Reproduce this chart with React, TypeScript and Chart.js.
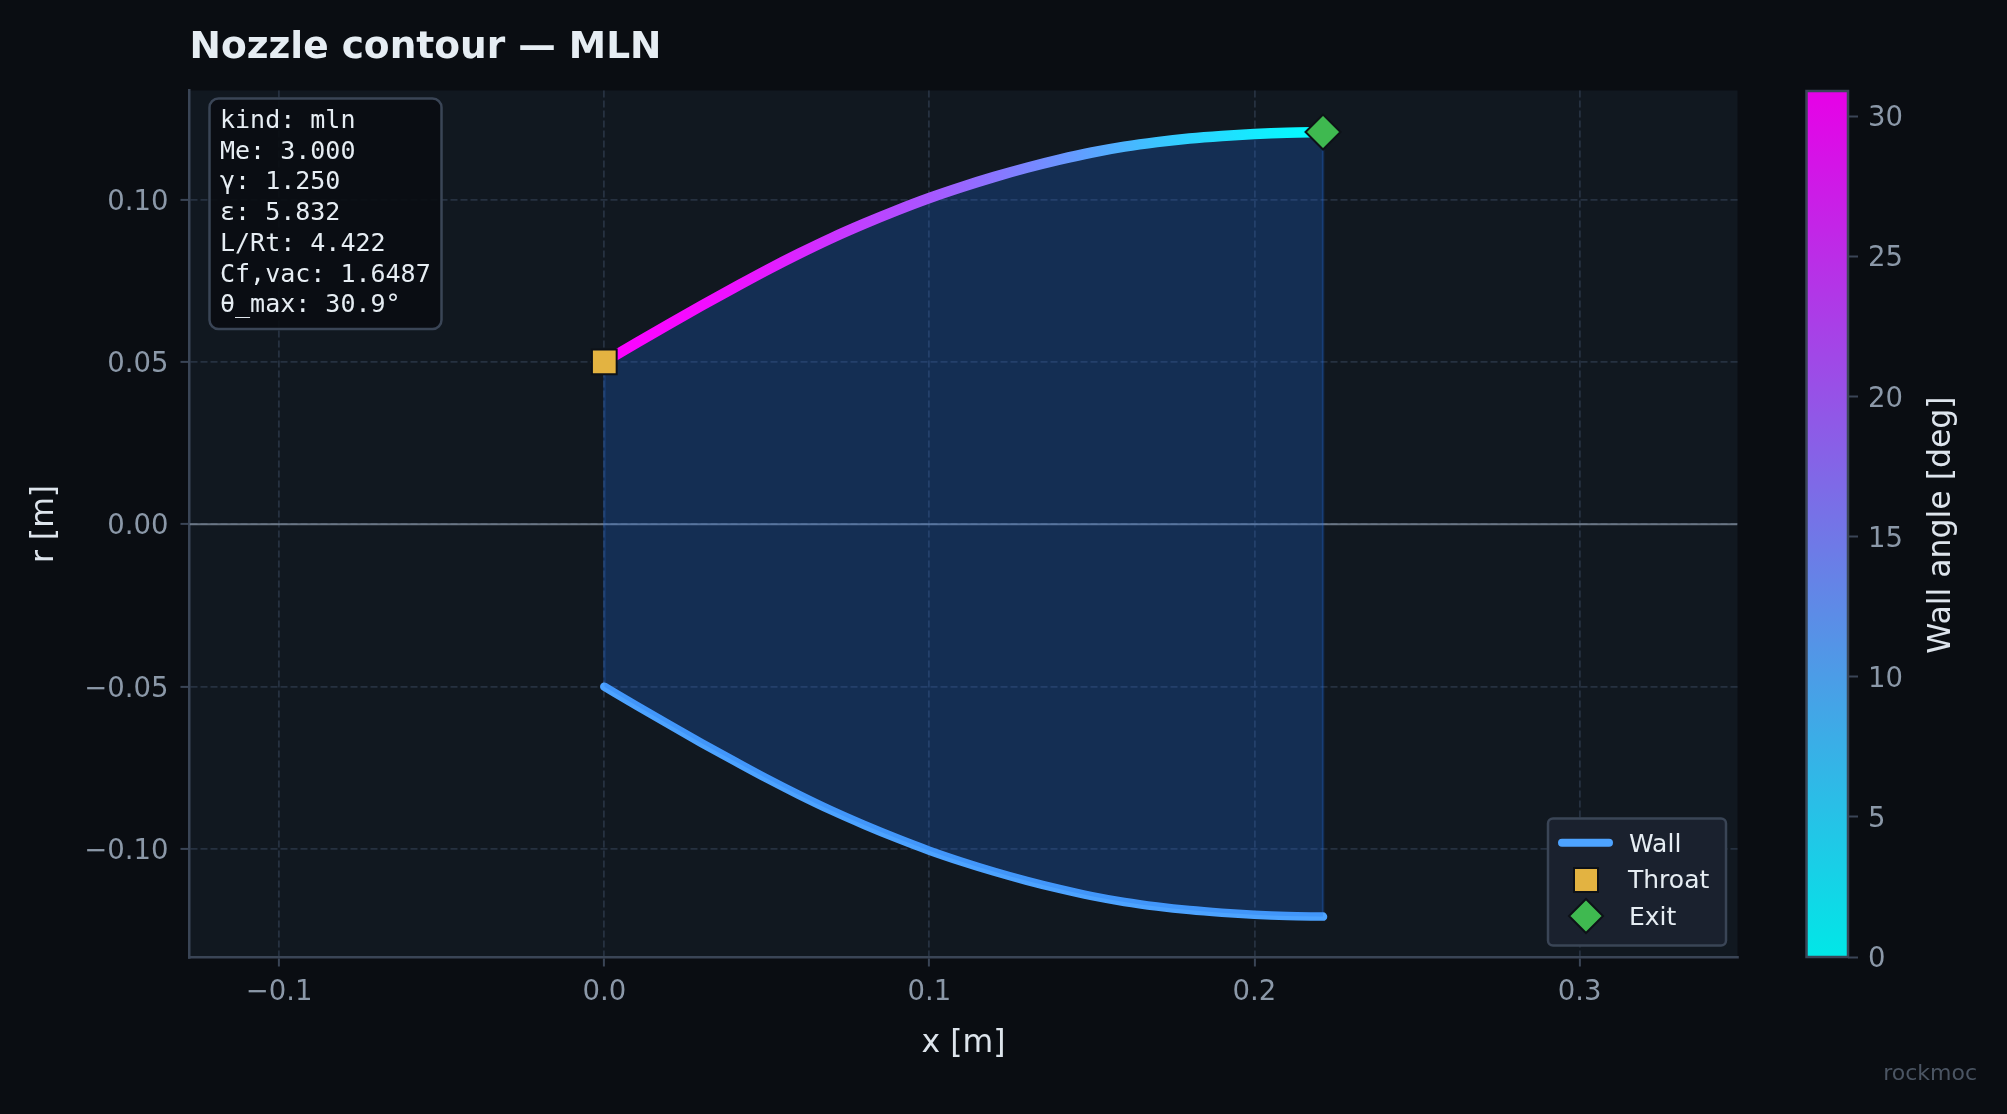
import React, { useEffect, useRef } from "react";
import { Chart, registerables } from "chart.js";

Chart.register(...registerables);

const wallX = [0, 0.01, 0.02, 0.03, 0.04, 0.05, 0.06, 0.07, 0.08, 0.09, 0.1, 0.11, 0.12, 0.13, 0.14, 0.15, 0.16, 0.17, 0.18, 0.19, 0.2, 0.21, 0.2211];
const wallR = [0.05, 0.0559, 0.0617, 0.0674, 0.0729, 0.0783, 0.0834, 0.0882, 0.0926, 0.0967, 0.1005, 0.1039, 0.107, 0.1098, 0.1123, 0.1145, 0.1163, 0.1177, 0.1188, 0.1196, 0.1202, 0.1206, 0.1208];
const wallAngle = [30.9, 30.3, 29.9, 29.4, 28.7, 27.7, 26.3, 24.7, 23, 21.8, 20.3, 18.5, 16.7, 14.8, 13, 11, 9.1, 7.1, 5.4, 4, 2.6, 1.2, 0.3];
const xTicks = [-0.1, 0, 0.1, 0.2, 0.3];
const yTicks = [-0.1, -0.05, 0, 0.05, 0.1];
const barTicks = [0, 5, 10, 15, 20, 25, 30];
const xRange = [-0.1276, 0.3486];
const yRange = [-0.1334, 0.1336];
const angleRange = [0, 30.9];
const infoLines = ["kind: mln", "Me: 3.000", "γ: 1.250", "ε: 5.832", "L/Rt: 4.422", "Cf,vac: 1.6487", "θ_max: 30.9°"];
const legendNames = ["Wall", "Throat", "Exit"];
const titleText = "Nozzle contour — MLN";
const xTitle = "x [m]";
const yTitle = "r [m]";
const barTitle = "Wall angle [deg]";
const watermark = "rockmoc";

const W = 2007;
const H = 1114;
const SANS = '"DejaVu Sans"';
const MONO = '"DejaVu Sans Mono"';
const BG = "#0a0d12";
const PANEL = "#111820";
const TEXT = "#e6edf3";
const LABEL = "#dde4ec";
const TICK = "#8b98a8";
const SPINE = "#3a4556";
const GRID = "#263140";
const WALL = "#4da3ff";
const GOLD = "#e3b341";
const GREEN = "#3fb950";
const FILL = "rgba(31,111,235,0.25)";
const TICK_SIZE = 27.5;
const LABEL_SIZE = 31.5;

const cool = (a: number, alpha = 1) => {
  const t = Math.max(0, Math.min(1, a / angleRange[1]));
  return `rgba(${Math.round(255 * t)},${Math.round(255 * (1 - t))},255,${alpha})`;
};

const roundBox = (ctx: any, x: number, y: number, w: number, h: number, r: number, fill: string, stroke: string, lw: number) => {
  ctx.beginPath();
  ctx.roundRect(x, y, w, h, r);
  ctx.fillStyle = fill;
  ctx.fill();
  ctx.lineWidth = lw;
  ctx.strokeStyle = stroke;
  ctx.stroke();
};

const backgroundPlugin = {
  id: "panelBackground",
  beforeDraw(chart: any) {
    const { ctx, chartArea: a } = chart;
    ctx.save();
    ctx.fillStyle = BG;
    ctx.fillRect(0, 0, W, H);
    ctx.fillStyle = PANEL;
    ctx.fillRect(a.left, a.top, a.right - a.left, a.bottom - a.top);
    ctx.restore();
  },
};

const overlayPlugin = {
  id: "overlay",
  afterDraw(chart: any) {
    const { ctx } = chart;
    ctx.save();
    ctx.textBaseline = "middle";
    ctx.textAlign = "left";
    ctx.fillStyle = TEXT;
    ctx.font = `bold 37.5px ${SANS}`;
    ctx.fillText(titleText, 189.5, 48.5);

    roundBox(ctx, 209.5, 98.5, 232, 230.5, 9, "rgba(10,13,18,0.92)", SPINE, 2.5);
    ctx.fillStyle = TEXT;
    ctx.font = `25px ${MONO}`;
    infoLines.forEach((line, i) => ctx.fillText(line, 220, 121.5 + i * 30.7));

    roundBox(ctx, 1548, 818.5, 178, 127, 5, "#1a212e", SPINE, 2.5);
    ctx.strokeStyle = WALL;
    ctx.lineWidth = 8;
    ctx.lineCap = "round";
    ctx.beginPath();
    ctx.moveTo(1562, 842.7);
    ctx.lineTo(1609, 842.7);
    ctx.stroke();
    ctx.lineCap = "butt";
    ctx.fillStyle = GOLD;
    ctx.strokeStyle = "#0d1117";
    ctx.lineWidth = 2;
    ctx.fillRect(1574, 868, 24, 24);
    ctx.strokeRect(1574, 868, 24, 24);
    ctx.fillStyle = GREEN;
    ctx.beginPath();
    ctx.moveTo(1586, 899);
    ctx.lineTo(1603, 916);
    ctx.lineTo(1586, 933);
    ctx.lineTo(1569, 916);
    ctx.closePath();
    ctx.fill();
    ctx.stroke();
    ctx.fillStyle = TEXT;
    ctx.font = `25px ${SANS}`;
    ctx.fillText(legendNames[0], 1629, 845);
    ctx.fillText(legendNames[1], 1628, 881.5);
    ctx.fillText(legendNames[2], 1629, 918);

    ctx.fillStyle = "#4b5563";
    ctx.font = `22px ${SANS}`;
    ctx.textAlign = "right";
    ctx.fillText(watermark, 1977, 1074);
    ctx.restore();
  },
};

const barOutlinePlugin = {
  id: "barOutline",
  afterDraw(chart: any) {
    const { ctx, chartArea: a } = chart;
    ctx.save();
    ctx.strokeStyle = SPINE;
    ctx.lineWidth = 2.5;
    ctx.strokeRect(a.left, a.top, a.right - a.left, a.bottom - a.top);
    ctx.translate(1942, (a.top + a.bottom) / 2 + 1);
    ctx.rotate(-Math.PI / 2);
    ctx.fillStyle = LABEL;
    ctx.font = `${LABEL_SIZE}px ${SANS}`;
    ctx.textAlign = "center";
    ctx.textBaseline = "middle";
    ctx.fillText(barTitle, 0, 0);
    ctx.restore();
  },
};

const fmt = (v: number, d: number) => {
  const s = Math.abs(v).toFixed(d);
  return (v < -1e-9 ? "\u2212" : "") + s;
};

export default function App() {
  const mainRef = useRef<HTMLCanvasElement>(null);
  const barRef = useRef<HTMLCanvasElement>(null);

  useEffect(() => {
    document.body.style.margin = "0";
    document.body.style.background = BG;

    const upper = wallX.map((x, i) => ({ x, y: wallR[i] }));
    const lower = wallX.map((x, i) => ({ x, y: -wallR[i] }));
    const last = wallX.length - 1;

    const wallGradient = (c: any) => {
      const { chart } = c;
      if (!chart.chartArea || !chart.scales.x) return cool(wallAngle[0]);
      const x0 = chart.scales.x.getPixelForValue(wallX[0]);
      const x1 = chart.scales.x.getPixelForValue(wallX[last]);
      const g = chart.ctx.createLinearGradient(x0, 0, x1, 0);
      wallX.forEach((x, i) => g.addColorStop((x - wallX[0]) / (wallX[last] - wallX[0]), cool(wallAngle[i])));
      return g;
    };

    const main = new Chart(mainRef.current as any, {
      type: "line",
      data: {
        datasets: [
          {
            label: "Throat",
            data: [upper[0]],
            order: 0,
            showLine: false,
            pointStyle: "rect",
            pointRadius: 17.5,
            pointBackgroundColor: GOLD,
            pointBorderColor: "#0d1117",
            pointBorderWidth: 2,
          },
          {
            label: "Exit",
            data: [upper[last]],
            order: 0,
            showLine: false,
            pointStyle: "rectRot",
            pointRadius: 17.5,
            pointBackgroundColor: GREEN,
            pointBorderColor: "#0d1117",
            pointBorderWidth: 2,
          },
          {
            label: "Upper wall",
            data: upper,
            order: 1,
            borderColor: wallGradient,
            borderWidth: 10.5,
            borderCapStyle: "round",
            cubicInterpolationMode: "monotone",
            pointRadius: 0,
            backgroundColor: FILL,
            fill: { target: 3 },
          },
          {
            label: "Wall",
            data: lower,
            order: 2,
            borderColor: WALL,
            borderWidth: 8.5,
            borderCapStyle: "round",
            cubicInterpolationMode: "monotone",
            pointRadius: 0,
            fill: false,
          },
          {
            label: "Throat edge",
            data: [upper[0], lower[0]],
            order: 3,
            borderColor: FILL,
            borderWidth: 2.5,
            pointRadius: 0,
            fill: false,
          },
          {
            label: "Exit edge",
            data: [upper[last], lower[last]],
            order: 3,
            borderColor: FILL,
            borderWidth: 2.5,
            pointRadius: 0,
            fill: false,
          },
          {
            label: "Axis",
            data: [{ x: xRange[0], y: 0 }, { x: xRange[1], y: 0 }],
            order: 4,
            borderColor: "rgba(139,152,168,0.7)",
            borderWidth: 2,
            pointRadius: 0,
            fill: false,
          },
        ],
      } as any,
      options: {
        responsive: false,
        animation: false,
        devicePixelRatio: 1,
        events: [],
        layout: { autoPadding: false, padding: { left: 0, top: 90.5, right: W - 1737.5, bottom: 0 } },
        plugins: { legend: { display: false }, tooltip: { enabled: false }, title: { display: false } },
        scales: {
          x: {
            type: "linear",
            min: xRange[0],
            max: xRange[1],
            afterBuildTicks: (s: any) => { s.ticks = xTicks.map((value) => ({ value })); },
            afterFit: (s: any) => { s.height = H - 957.5; },
            border: { display: true, color: SPINE, width: 2.5, dash: [7, 3] },
            grid: { color: GRID, lineWidth: 1.8, tickColor: SPINE, tickLength: 9, tickWidth: 2, tickBorderDash: [] },
            ticks: { color: TICK, font: { family: SANS, size: TICK_SIZE }, padding: 10, autoSkip: false, maxRotation: 0, callback: (v: any) => fmt(v, 1) },
            title: { display: true, text: xTitle, color: LABEL, font: { family: SANS, size: LABEL_SIZE }, padding: { top: 0, bottom: 51 } },
          },
          y: {
            type: "linear",
            min: yRange[0],
            max: yRange[1],
            afterBuildTicks: (s: any) => { s.ticks = yTicks.map((value) => ({ value })); },
            afterFit: (s: any) => { s.width = 189.5; },
            border: { display: true, color: SPINE, width: 2.5, dash: [7, 3] },
            grid: { color: GRID, lineWidth: 1.8, tickColor: SPINE, tickLength: 9, tickWidth: 2, tickBorderDash: [] },
            ticks: { color: TICK, font: { family: SANS, size: TICK_SIZE }, padding: 12, labelOffset: 3, autoSkip: false, callback: (v: any) => fmt(v, 2) },
            title: { display: true, text: yTitle, color: LABEL, font: { family: SANS, size: LABEL_SIZE }, padding: { top: 26, bottom: 0 } },
          },
        },
      } as any,
      plugins: [backgroundPlugin, overlayPlugin] as any,
    });

    const bar = new Chart(barRef.current as any, {
      type: "bar",
      data: {
        labels: ["angle"],
        datasets: [
          {
            label: barTitle,
            data: [angleRange as any],
            barPercentage: 1,
            categoryPercentage: 1,
            backgroundColor: (c: any) => {
              const { chart } = c;
              if (!chart.chartArea) return cool(0, 0.9);
              const s = chart.scales.y;
              const g = chart.ctx.createLinearGradient(0, s.getPixelForValue(angleRange[0]), 0, s.getPixelForValue(angleRange[1]));
              g.addColorStop(0, cool(0, 0.9));
              g.addColorStop(1, cool(angleRange[1], 0.9));
              return g;
            },
          },
        ],
      },
      options: {
        responsive: false,
        animation: false,
        devicePixelRatio: 1,
        events: [],
        layout: { autoPadding: false, padding: { left: 1806.5, top: 91, right: 0, bottom: H - 957 } },
        plugins: { legend: { display: false }, tooltip: { enabled: false }, title: { display: false } },
        scales: {
          x: { display: false },
          y: {
            position: "right",
            min: angleRange[0],
            max: angleRange[1],
            afterBuildTicks: (s: any) => { s.ticks = barTicks.map((value) => ({ value })); },
            afterFit: (s: any) => { s.width = W - 1848; },
            border: { display: false },
            grid: { drawOnChartArea: false, drawTicks: true, tickLength: 10, tickWidth: 2, tickColor: SPINE, color: SPINE },
            ticks: { color: TICK, font: { family: SANS, size: TICK_SIZE }, padding: 10, labelOffset: 3, autoSkip: false, callback: (v: any) => String(v) },
          },
        },
      } as any,
      plugins: [barOutlinePlugin] as any,
    });

    return () => {
      main.destroy();
      bar.destroy();
    };
  }, []);

  const layer: React.CSSProperties = { position: "absolute", left: 0, top: 0, display: "block" };
  return (
    <div style={{ position: "relative", width: W, height: H, overflow: "hidden", background: BG }}>
      <canvas ref={mainRef} width={W} height={H} style={layer} />
      <canvas ref={barRef} width={W} height={H} style={layer} />
    </div>
  );
}
